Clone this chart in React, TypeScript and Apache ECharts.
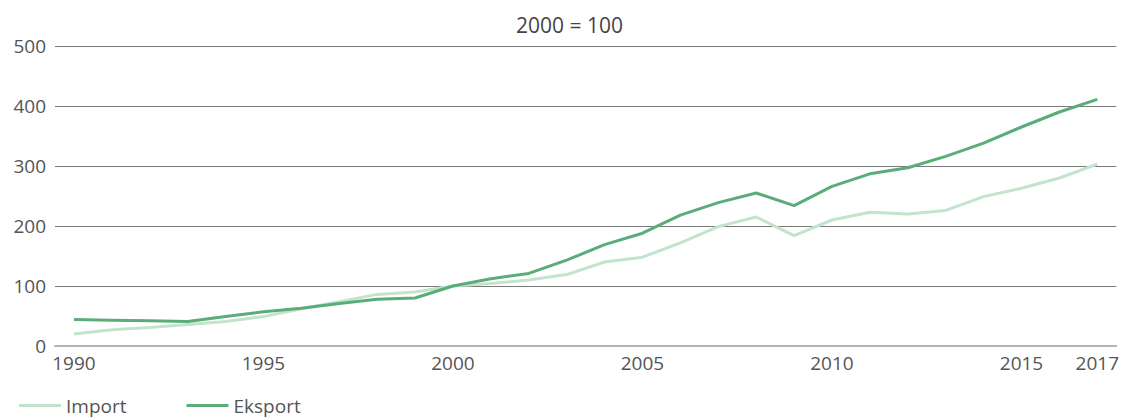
import React, { useEffect, useRef } from "react";
import * as echarts from "echarts";

const years = [
  "1990", "1991", "1992", "1993", "1994", "1995", "1996", "1997", "1998", "1999",
  "2000", "2001", "2002", "2003", "2004", "2005", "2006", "2007", "2008", "2009",
  "2010", "2011", "2012", "2013", "2014", "2015", "2016", "2017",
];
const importValues = [
  20, 27, 31, 36, 41, 49, 62, 74, 86, 90,
  100, 104, 110, 119, 140, 148, 172, 199, 215, 184,
  210, 223, 220, 226, 249, 263, 280, 303,
];
const eksportValues = [
  44, 43, 42, 41, 49, 57, 63, 71, 78, 80,
  100, 112, 121, 143, 169, 188, 218, 239, 255, 234,
  266, 287, 297, 316, 338, 365, 390, 411,
];
const shownLabels = ["1990", "1995", "2000", "2005", "2010", "2015", "2017"];
const yTicks = [0, 100, 200, 300, 400, 500];

export default function App() {
  const ref = useRef<HTMLDivElement>(null);
  useEffect(() => {
    const chart = echarts.init(ref.current!, null, { renderer: "svg" });
    const font = "'Open Sans', 'Noto Sans', sans-serif";
    chart.setOption({
      animation: false,
      title: {
        text: "2000 = 100",
        left: 511,
        top: 9,
        textStyle: { fontFamily: font, fontSize: 21, fontWeight: "normal", color: "#444" },
      },
      legend: {
        left: 14,
        bottom: 0,
        itemWidth: 42,
        itemHeight: 3,
        itemGap: 60,
        icon: "rect",
        textStyle: { fontFamily: font, fontSize: 19, color: "#555", padding: [0, 0, 0, 0] },
        data: ["Import", "Eksport"],
      },
      grid: { left: 55, right: 4, top: 46, bottom: 74, containLabel: false },
      xAxis: {
        type: "category",
        data: years,
        boundaryGap: true,
        axisLine: { show: true, lineStyle: { color: "#b3b3b3", width: 2 } },
        axisTick: { show: false },
        axisLabel: {
          interval: (i: number, v: string) => shownLabels.includes(v),
          fontFamily: font,
          fontSize: 19,
          color: "#555",
          margin: 7,
        },
      },
      yAxis: {
        type: "value",
        min: yTicks[0],
        max: yTicks[yTicks.length - 1],
        interval: 100,
        axisLine: { show: false },
        axisTick: { show: false },
        axisLabel: { fontFamily: font, fontSize: 19, color: "#555", margin: 9 },
        splitLine: { lineStyle: { color: "#7a7a7a", width: 1 } },
      },
      series: [
        {
          name: "Import",
          type: "line",
          data: importValues,
          symbol: "none",
          lineStyle: { color: "#c4e3cc", width: 3 },
          itemStyle: { color: "#c4e3cc" },
        },
        {
          name: "Eksport",
          type: "line",
          data: eksportValues,
          symbol: "none",
          lineStyle: { color: "#5aad79", width: 3 },
          itemStyle: { color: "#5aad79" },
        },
      ],
    });
    return () => chart.dispose();
  }, []);
  return <div ref={ref} style={{ width: 1122, height: 420, position: "absolute", left: 0, top: 0 }} />;
}
